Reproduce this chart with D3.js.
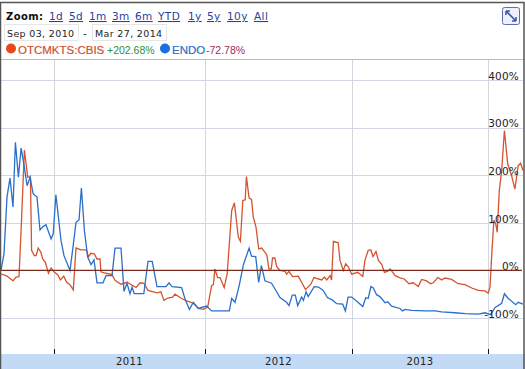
<!DOCTYPE html>
<html>
<head>
<meta charset="utf-8">
<script src="https://cdn.jsdelivr.net/npm/d3@7"></script>
<style>
    html, body { margin: 0; padding: 0; background: #fff; }
    svg { display: block; }
    text { font-family: "DejaVu Sans", sans-serif; }
</style>
</head>
<body>
<div id="chart"></div>
<script>

// Values. Weeks are counted in trading weeks from Sep 03, 2010
let otcWeeks = [0,2,4,5,6,6.7,7.8,8.9,9.8,10.2,11.1,11.7,12.4,13.3,13.9,14.8,15.8,16.7,17.8,18.9,19.8,20.9,21.9,23,24.1,25,26.7,28.4,29.2,30,31.1,32,33,33.3,35,37,38,40,42,45,46.4,47.6,49,52,53.3,54.3,55.6,57.2,58,60.2,61.9,64.1,65.8,67.4,68.9,70.2,70.8,71.3,72.2,73,74.4,75.4,76.9,77.8,79.1,79.8,80.6,81.4,81.8,82.7,83.5,84.1,85,85.9,86.9,88.6,89.3,90.1,90.5,91.3,91.9,93,94.7,95.2,96,97.2,99.1,101.5,103.3,104.3,106.9,107.8,108.6,109.7,110.2,110.8,112.4,113,114.1,114.9,115.8,116.9,118.9,120.6,121.3,122.4,123.3,124,125,125.8,126.9,127.8,128.9,129.7,131.4,133,134.4,136,137.4,139.1,140.2,141.9,143.2,144.1,145.6,146.9,148,150.2,152.4,154.7,156.9,159.1,161.3,162.4,163,163.6,164.3,164.9,165.4,166.1,166.9,167.8,168.9,170.2,171.3,172.4,173.2,174];
let otcPct = [-7,-12,-22,-14,-13,84,253,196,196,42,31,31,47,38,24,17,-6,5,-4,-9,-20,-12,-25,-30,-41,47,43,43,29,36,35,24,24,-3,-6,-9,-21,-29,-25,-36,-26,-27,-42,-47,-45,-63,-58,-56,-50,-59,-64,-69,-80,-82,-77,-32,-30,3,-15,-15,-36,-7,126,142,70,61,147,148,197,152,149,112,91,45,47,33,3,3,26,26,8,0,-2,-8,-2,-13,-12,-40,-29,-15,-20,-14,-20,-11,-20,61,58,21,0,14,7,-8,-4,-13,21,42,43,29,40,21,13,-4,-1.5,3,-11,-15.5,-18,-28,-26,-34,-19,-22,-28,-26,-15,-20,-16,-19,-28,-30,-37,-42,-43,-48,-35,35,106,98,80,168,210,294,224,199,171,220,225,210];

let endoWeeks = [0,1,2,3,4,4.8,5.8,6.7,7.7,8.7,9.7,10.7,12,13,14,15,16.7,17.4,18.3,20,21,23,24,25,26,26.8,27.8,28.9,30,31,32,34,35,37,38,40,41,42,43,43.7,44.4,47.6,49,50.4,52,55,56,57,60.2,61.3,62.8,64.1,65.8,68.5,70.2,76.1,76.9,78,79.4,80.8,82.7,83.5,84.9,85.9,86.8,88,90.2,93,95.2,96,97.1,98.1,98.9,100.2,100.8,101.7,102.4,104.4,105.8,107.4,108.8,110.4,111.9,113.9,114.8,115.7,116.9,118.6,120.6,121.6,122.4,123.3,124.1,125.2,126.3,128,128.9,130.2,133,133.8,134.7,136.9,141.3,144.7,146.9,151.3,154.7,159.1,161.3,163.2,164.7,166.9,167.8,169.1,171.6,172.4,174];
let endoPct = [0,35,154,194,133,269,196,257,220,178,196,161,154,85,92,96,66,77,159,63,31,0,49,101,106,173,84,28,12,22,-26,-26,-11,-11,47,47,-44,-27,-49,-35,-49,-49,19,19,-34,-34,-26,-34,-36,-59,-82,-67,-80,-75,-85,-85,-59,-67,-32,12,47,30,29,-25,10,-22,-27,-57,-67,-74,-52,-52,-74,-56,-63,-45,-55,-34,-35,-42,-57,-62,-70,-71,-85,-56,-56,-65,-76,-57,-59,-34,-37,-51,-55,-68,-66,-75,-80,-85,-82,-84,-85,-85,-87,-89,-91,-92,-89,-93,-78,-69,-49,-59,-72,-67,-71];

let yTicks = [400, 300, 200, 100, 0, -100];
let yearTicks = [17.67, 68, 117, 162.3];
let yearLabels = ["2011", "2012", "2013"];

let zoomLinks = ["1d", "5d", "1m", "3m", "6m", "YTD", "1y", "5y", "10y", "All"];
let zoomLinkX = [49, 69, 89, 112, 135, 158, 188, 207, 227, 254];
let dateRange = ["Sep 03, 2010", "Mar 27, 2014"];

let width = 525, height = 369;
let plotTop = 60, plotBottom = 354;

let svg = d3.select("#chart").append("svg")
    .attr("width", width)
    .attr("height", height);

let x = d3.scaleLinear().domain([0, 174]).range([1, 523]);
let y = d3.scaleLinear().domain([-100, 400]).range([318, 80]);

// Horizontal and vertical grid
svg.append("g").selectAll("line")
    .data(yTicks.filter(d => d !== 0))
    .join("line")
    .attr("x1", 1).attr("x2", 523)
    .attr("y1", d => Math.round(y(d)) + 0.5).attr("y2", d => Math.round(y(d)) + 0.5)
    .attr("stroke", "#d3d6e6");

svg.append("g").selectAll("line")
    .data(yearTicks)
    .join("line")
    .attr("x1", d => Math.round(x(d)) + 0.5).attr("x2", d => Math.round(x(d)) + 0.5)
    .attr("y1", plotTop).attr("y2", plotBottom)
    .attr("stroke", "#d4d6e0");

// Small black ticks on top of the year band
svg.append("g").selectAll("line")
    .data(yearTicks)
    .join("line")
    .attr("x1", d => Math.round(x(d)) + 0.5).attr("x2", d => Math.round(x(d)) + 0.5)
    .attr("y1", plotBottom - 5).attr("y2", plotBottom)
    .attr("stroke", "#111");

// Year band
svg.append("rect")
    .attr("x", 0).attr("y", plotBottom)
    .attr("width", width).attr("height", height - plotBottom)
    .attr("fill", "#c3daf6");

svg.append("g").selectAll("text")
    .data(yearLabels)
    .join("text")
    .attr("x", (d, i) => (x(yearTicks[i]) + x(yearTicks[i + 1])) / 2)
    .attr("y", 365)
    .attr("text-anchor", "middle")
    .attr("font-size", 10)
    .attr("letter-spacing", 0.4)
    .attr("fill", "#222")
    .text(d => d);

// Series
let line = d3.line()
    .x(d => x(d[0]))
    .y(d => y(d[1]));

svg.append("path")
    .datum(d3.zip(otcWeeks, otcPct))
    .attr("d", line)
    .attr("fill", "none")
    .attr("stroke", "#d5532f")
    .attr("stroke-width", 1.3);

svg.append("path")
    .datum(d3.zip(endoWeeks, endoPct))
    .attr("d", line)
    .attr("fill", "none")
    .attr("stroke", "#2a6fc9")
    .attr("stroke-width", 1.3);

// Zero line
svg.append("line")
    .attr("x1", 0).attr("x2", 522)
    .attr("y1", y(0)).attr("y2", y(0))
    .attr("stroke", "#7c2b1f")
    .attr("stroke-width", 1.2);

// Y axis labels
let yAxis = d3.axisLeft(y)
    .tickValues(yTicks)
    .tickSize(0)
    .tickPadding(0)
    .tickFormat(d => d + "%");

let yAxisGroup = svg.append("g")
    .attr("transform", "translate(519,-4)")
    .call(yAxis);
yAxisGroup.select(".domain").remove();
yAxisGroup.selectAll("text")
    .attr("font-size", 10.5)
    .attr("font-family", "DejaVu Sans")
    .attr("letter-spacing", 0.2)
    .attr("fill", "#222");

// Header background and frame
svg.append("rect")
    .attr("x", 0).attr("y", 0)
    .attr("width", width).attr("height", plotTop)
    .attr("fill", "#fff");
svg.append("line")
    .attr("x1", 1).attr("x2", 524).attr("y1", plotTop - 0.5).attr("y2", plotTop - 0.5)
    .attr("stroke", "#bdbdbd");
svg.append("path")
    .attr("d", "M0.5," + height + "V2.5H524V" + height)
    .attr("fill", "none")
    .attr("stroke", "#555")
    .attr("stroke-width", 1.5);

// Zoom links
svg.append("text")
    .attr("x", 6).attr("y", 20)
    .attr("font-size", 10)
    .attr("font-weight", "bold")
    .attr("letter-spacing", 0.4)
    .attr("fill", "#111")
    .text("Zoom:");

svg.append("g").selectAll("text")
    .data(zoomLinks)
    .join("text")
    .attr("x", (d, i) => zoomLinkX[i])
    .attr("y", 20)
    .attr("font-size", 10.5)
    .attr("letter-spacing", 0.4)
    .attr("fill", "#2a3f9e")
    .attr("text-decoration", "underline")
    .text(d => d);

// Date range boxes
let dateBoxX = [4, 92];
svg.append("g").selectAll("rect")
    .data(dateRange)
    .join("rect")
    .attr("x", (d, i) => dateBoxX[i] + 0.5).attr("y", 24.5)
    .attr("width", 74).attr("height", 16)
    .attr("fill", "#fff")
    .attr("stroke", "#e6e6e6");

svg.append("g").selectAll("text")
    .data(dateRange)
    .join("text")
    .attr("x", (d, i) => dateBoxX[i] + 3)
    .attr("y", 37)
    .attr("font-size", 9.5)
    .attr("letter-spacing", 0.35)
    .attr("fill", "#222")
    .text(d => d);

svg.append("text")
    .attr("x", 83).attr("y", 37)
    .attr("font-size", 10)
    .attr("fill", "#222")
    .text("-");

// Legend
svg.append("circle").attr("cx", 11).attr("cy", 48.5).attr("r", 5).attr("fill", "#e8481c");
svg.append("circle").attr("cx", 165).attr("cy", 48.5).attr("r", 5).attr("fill", "#1a6fe0");

let legendFont = "'Liberation Sans', Arial, sans-serif";
svg.append("text")
    .attr("x", 18).attr("y", 54)
    .style("font-family", legendFont)
    .attr("font-size", 11.5)
    .attr("stroke", "#d1502f")
    .attr("stroke-width", 0.2)
    .attr("fill", "#d1502f")
    .text("OTCMKTS:CBIS");
svg.append("text")
    .attr("x", 107).attr("y", 54)
    .style("font-family", legendFont)
    .attr("font-size", 10.5)
    .attr("fill", "#2f8f3a")
    .text("+202.68%");
svg.append("text")
    .attr("x", 172).attr("y", 54)
    .style("font-family", legendFont)
    .attr("font-size", 11.5)
    .attr("stroke", "#2a6fc9")
    .attr("stroke-width", 0.2)
    .attr("fill", "#2a6fc9")
    .text("ENDO");
svg.append("text")
    .attr("x", 206).attr("y", 54)
    .style("font-family", legendFont)
    .attr("font-size", 10.5)
    .attr("fill", "#933063")
    .text("-72.78%");

// Expand button
svg.append("rect")
    .attr("x", 502.5).attr("y", 7.5)
    .attr("width", 17).attr("height", 17)
    .attr("rx", 2)
    .attr("fill", "#eef1fa")
    .attr("stroke", "#5a6db5");
svg.append("path")
    .attr("d", "M506,11L516,21M506,11h4M506,11v4M516,21h-4M516,21v-4")
    .attr("fill", "none")
    .attr("stroke", "#3f5aa8")
    .attr("stroke-width", 1.6);

</script>
</body>
</html>
